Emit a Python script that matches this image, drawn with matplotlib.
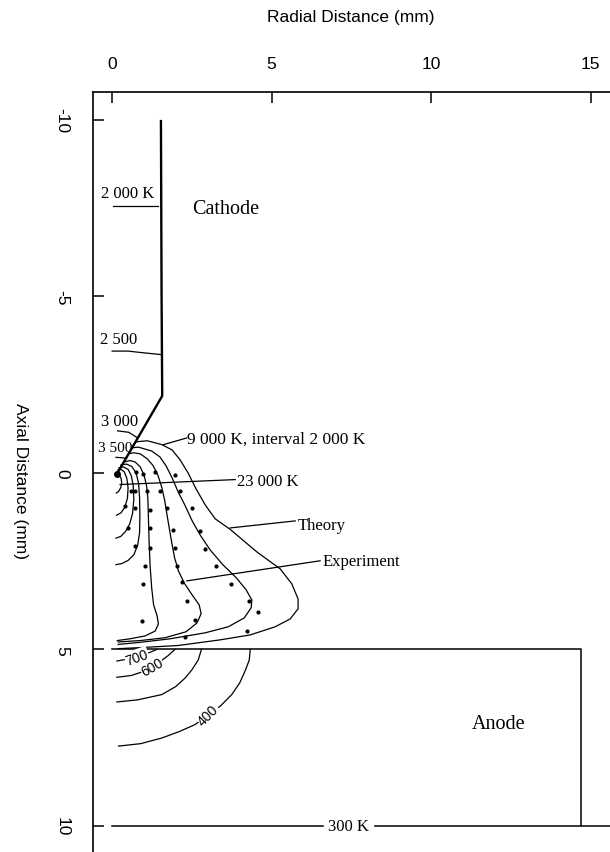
import matplotlib
matplotlib.use("Agg")
import matplotlib.pyplot as plt

# ---------------- data (mm): r = radial distance, z = axial distance ----------------
x_ticks = [0, 5, 10, 15]
x_ticklabels = ["0", "5", "10", "15"]
y_ticks = [-10, -5, 0, 5, 10]
y_ticklabels = ["-10", "-5", "0", "5", "10"]

# cathode outline
cathode_r = [1.53, 1.55, 1.57, 0.15]
cathode_z = [-10.0, -5.0, -2.18, 0.03]

# isotherms inside the cathode
iso2000_r = [0.03, 1.45]
iso2000_z = [-7.56, -7.56]
iso2500_r = [0.0, 0.5, 1.0, 1.55]
iso2500_z = [-3.45, -3.45, -3.40, -3.35]
iso3000_r = [0.17, 0.52, 0.80]
iso3000_z = [-1.19, -1.15, -0.99]
iso3500_r = [0.12, 0.30, 0.45]
iso3500_z = [-0.44, -0.43, -0.41]

# plasma isotherms (theory), 9 000 K ... 23 000 K
t9000_r = [0.75, 1.10, 1.56, 1.88, 2.13, 2.38, 2.63, 2.92, 3.23, 3.70, 4.54, 5.27, 5.63,
           5.83, 5.83, 5.58, 5.11, 4.33, 3.39, 2.07, 0.88, 0.19]
t9000_z = [-0.88, -0.91, -0.80, -0.65, -0.37, 0.00, 0.45, 0.91, 1.30, 1.60, 2.24, 2.72, 3.14,
           3.57, 3.85, 4.14, 4.36, 4.59, 4.73, 4.89, 4.95, 4.98]
t11000_r = [0.63, 0.82, 1.24, 1.50, 1.69, 1.88, 2.07, 2.29, 2.51, 2.76, 3.07, 3.48, 3.89,
            4.20, 4.38, 4.36, 4.14, 3.64, 2.92, 1.82, 0.88, 0.19]
t11000_z = [-0.71, -0.73, -0.62, -0.45, -0.20, 0.14, 0.54, 0.93, 1.36, 1.76, 2.18, 2.61, 2.97,
            3.31, 3.60, 3.82, 4.11, 4.36, 4.53, 4.70, 4.80, 4.86]
t13000_r = [0.52, 0.67, 0.88, 1.10, 1.29, 1.44, 1.56, 1.65, 1.71, 1.79, 1.87, 1.96, 2.08,
            2.26, 2.51, 2.73, 2.79, 2.66, 2.32, 1.66, 0.88, 0.19]
t13000_z = [-0.54, -0.57, -0.54, -0.40, -0.20, 0.08, 0.42, 0.79, 1.13, 1.56, 1.98, 2.41, 2.78,
            3.12, 3.46, 3.74, 3.99, 4.25, 4.50, 4.67, 4.75, 4.79]
t15000_r = [0.38, 0.56, 0.72, 0.88, 1.00, 1.08, 1.12, 1.14, 1.16, 1.19, 1.24, 1.30, 1.41,
            1.45, 1.35, 1.03, 0.56, 0.16]
t15000_z = [-0.31, -0.35, -0.31, -0.17, 0.06, 0.37, 0.71, 1.36, 1.98, 2.63, 3.26, 3.74, 4.05,
            4.28, 4.48, 4.62, 4.70, 4.75]
t17000_r = [0.27, 0.45, 0.62, 0.75, 0.83, 0.86, 0.87, 0.86, 0.80, 0.68, 0.50, 0.30, 0.12]
t17000_z = [-0.22, -0.25, -0.18, 0.00, 0.30, 0.70, 1.20, 1.70, 2.05, 2.32, 2.48, 2.57, 2.60]
t19000_r = [0.21, 0.35, 0.50, 0.60, 0.66, 0.68, 0.64, 0.55, 0.42, 0.27, 0.12]
t19000_z = [-0.14, -0.17, -0.10, 0.08, 0.35, 0.75, 1.15, 1.45, 1.66, 1.80, 1.85]
t21000_r = [0.18, 0.28, 0.38, 0.46, 0.50, 0.48, 0.40, 0.28, 0.14]
t21000_z = [-0.08, -0.10, -0.03, 0.15, 0.42, 0.72, 0.97, 1.13, 1.20]
t23000_r = [0.15, 0.22, 0.28, 0.30, 0.27, 0.20, 0.13]
t23000_z = [0.03, 0.06, 0.15, 0.28, 0.42, 0.53, 0.57]

# experimental points
exp_r = [1.33, 1.97, 0.96, 0.75, 1.50, 1.09, 0.72, 0.60, 2.13, 1.71, 2.50, 1.19, 0.72, 0.41,
         1.92, 2.76, 1.19, 0.51, 1.97, 2.92, 1.19, 0.72, 1.03, 2.03, 3.25, 0.98, 2.20, 3.73,
         2.34, 4.29, 4.57, 2.60, 0.93, 2.27, 4.22]
exp_z = [-0.03, 0.07, 0.03, -0.02, 0.52, 0.51, 0.50, 0.51, 0.52, 0.99, 0.99, 1.04, 0.99, 0.93,
         1.61, 1.64, 1.56, 1.56, 2.12, 2.17, 2.12, 2.07, 2.63, 2.63, 2.63, 3.16, 3.09, 3.14,
         3.62, 3.63, 3.94, 4.18, 4.19, 4.65, 4.48]

# anode isotherms
a700_r = [0.15, 0.50, 0.90, 1.20, 1.40]
a700_z = [5.33, 5.27, 5.17, 5.08, 5.00]
a600_r = [0.15, 0.60, 1.00, 1.40, 1.75, 1.97]
a600_z = [5.79, 5.74, 5.62, 5.42, 5.18, 5.00]
a500_r = [0.15, 0.80, 1.56, 2.00, 2.29, 2.50, 2.70, 2.80]
a500_z = [6.49, 6.43, 6.28, 6.05, 5.81, 5.58, 5.30, 5.00]
a400_r = [0.20, 0.90, 1.56, 2.10, 2.60, 3.00, 3.40, 3.75, 4.00, 4.17, 4.30, 4.33]
a400_z = [7.74, 7.67, 7.51, 7.33, 7.13, 6.87, 6.60, 6.28, 5.95, 5.61, 5.30, 5.00]

# anode block and 300 K boundary
anode_r = [0.0, 14.7, 14.7]
anode_z = [5.0, 5.0, 10.0]
iso300_left_r = [0.0, 6.6]
iso300_right_r = [8.25, 15.7]
iso300_z = [10.0, 10.0]

# ---------------- figure ----------------
sans = "Liberation Sans"
serif = "Liberation Serif"
fig = plt.figure(figsize=(6.1, 8.53), dpi=100)
ax = fig.add_axes([93 / 610, 0, 517 / 610, 760 / 853])
ax.set_xlim(-0.60, 15.61)
ax.set_ylim(10.74, -10.79)

for s in ("right", "bottom"):
    ax.spines[s].set_visible(False)
for s in ("top", "left"):
    ax.spines[s].set_linewidth(1.2)

ax.xaxis.tick_top()
ax.xaxis.set_label_position("top")
ax.set_xticks(x_ticks)
ax.set_xticklabels(x_ticklabels, fontfamily=sans, fontsize=12.5)
ax.set_yticks(y_ticks)
ax.set_yticklabels(y_ticklabels, fontfamily=sans, fontsize=12.5, rotation=-90, va="center")
ax.tick_params(axis="x", direction="in", length=8, width=1.1, pad=15)
ax.tick_params(axis="y", direction="in", length=8, width=1.1, pad=17)

ax.set_xlabel("Radial Distance (mm)", fontfamily=sans, fontsize=12.5)
ax.xaxis.set_label_coords(0.499, 1.0987)
ax.xaxis.label.set_va("center")
ax.set_ylabel("Axial Distance (mm)", fontfamily=sans, fontsize=12.5, rotation=-90,
              va="center", ha="center")
ax.yaxis.set_label_coords(-0.14, 0.49)

lc = "black"
lw = 0.9
# cathode
ax.plot(cathode_r, cathode_z, color=lc, lw=1.7, solid_capstyle="butt")
ax.plot([cathode_r[-1]], [cathode_z[-1]], "o", color=lc, ms=4)
for rr, zz in ((iso2000_r, iso2000_z), (iso2500_r, iso2500_z),
               (iso3000_r, iso3000_z), (iso3500_r, iso3500_z)):
    ax.plot(rr, zz, color=lc, lw=lw)

# plasma theory curves
for rr, zz in ((t9000_r, t9000_z), (t11000_r, t11000_z), (t13000_r, t13000_z),
               (t15000_r, t15000_z), (t17000_r, t17000_z), (t19000_r, t19000_z),
               (t21000_r, t21000_z), (t23000_r, t23000_z)):
    ax.plot(rr, zz, color=lc, lw=lw)
ax.plot(exp_r, exp_z, linestyle="none", marker="o", ms=2.0, color=lc)

# anode
ax.plot(anode_r, anode_z, color=lc, lw=1.1)
ax.plot(iso300_left_r, iso300_z, color=lc, lw=1.1)
ax.plot(iso300_right_r, iso300_z, color=lc, lw=1.1)
for rr, zz in ((a700_r, a700_z), (a600_r, a600_z), (a500_r, a500_z), (a400_r, a400_z)):
    ax.plot(rr, zz, color=lc, lw=lw)

# ---------------- annotations ----------------
fs = 12
ax.text(-0.34, -7.92, "2 000 K", fontfamily=serif, fontsize=fs, va="center", ha="left")
ax.text(2.50, -7.48, "Cathode", fontfamily=serif, fontsize=14.5, va="center", ha="left")
ax.text(-0.38, -3.80, "2 500", fontfamily=serif, fontsize=fs, va="center", ha="left")
ax.text(-0.34, -1.47, "3 000", fontfamily=serif, fontsize=fs, va="center", ha="left")
ax.text(-0.45, -0.71, "3 500", fontfamily=serif, fontsize=11, va="center", ha="left")

ax.plot([1.61, 2.34], [-0.80, -0.99], color=lc, lw=lw)
ax.text(2.36, -0.96, "9 000 K, interval 2 000 K", fontfamily=serif, fontsize=12.5,
        va="center", ha="left")
ax.plot([0.25, 3.86], [0.33, 0.19], color=lc, lw=lw)
ax.text(3.91, 0.22, "23 000 K", fontfamily=serif, fontsize=fs, va="center", ha="left")
ax.plot([3.70, 5.74], [1.56, 1.36], color=lc, lw=lw)
ax.text(5.83, 1.47, "Theory", fontfamily=serif, fontsize=fs, va="center", ha="left")
ax.plot([2.34, 6.52], [3.06, 2.49], color=lc, lw=lw)
ax.text(6.61, 2.49, "Experiment", fontfamily=serif, fontsize=fs, va="center", ha="left")

bb = dict(facecolor="white", edgecolor="none", pad=0.3)
ax.text(0.77, 5.21, "700", fontfamily=sans, fontsize=10, rotation=20,
        va="center", ha="center", bbox=bb)
ax.text(1.25, 5.50, "600", fontfamily=sans, fontsize=10, rotation=30,
        va="center", ha="center", bbox=bb)
ax.text(3.01, 6.85, "400", fontfamily=sans, fontsize=10, rotation=45,
        va="center", ha="center", bbox=bb)

ax.text(11.27, 7.10, "Anode", fontfamily=serif, fontsize=14.5, va="center", ha="left")
ax.text(7.42, 10.0, "300 K", fontfamily=serif, fontsize=fs, va="center", ha="center")

fig.savefig("out.png", dpi=100)
